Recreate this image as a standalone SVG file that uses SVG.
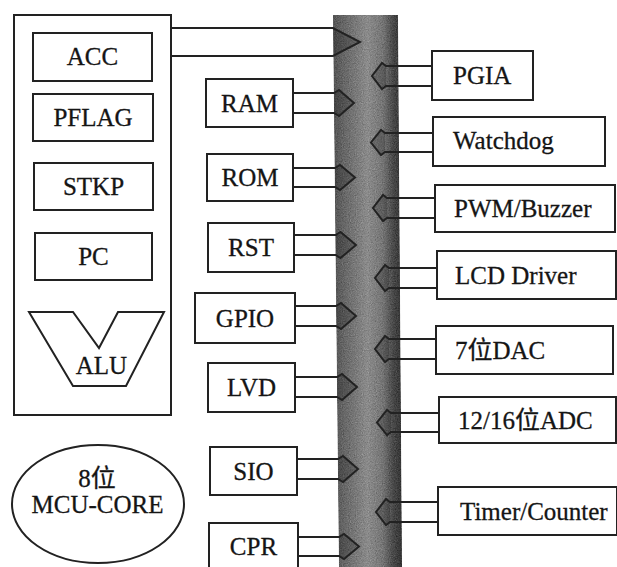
<svg xmlns="http://www.w3.org/2000/svg" width="617" height="567" viewBox="0 0 617 567">
  <defs>
    <linearGradient id="busGrad" x1="0" y1="0" x2="1" y2="0">
      <stop offset="0" stop-color="#525252"/>
      <stop offset="0.18" stop-color="#686868"/>
      <stop offset="0.5" stop-color="#8a8a8a"/>
      <stop offset="0.72" stop-color="#747474"/>
      <stop offset="0.88" stop-color="#464646"/>
      <stop offset="1" stop-color="#333333"/>
    </linearGradient>
    <filter id="grain" x="0" y="0" width="1" height="1" color-interpolation-filters="sRGB">
      <feTurbulence type="fractalNoise" baseFrequency="0.85" numOctaves="2" seed="7" result="t"/>
      <feColorMatrix in="t" type="matrix" values="0.33 0.33 0.33 0 0  0.33 0.33 0.33 0 0  0.33 0.33 0.33 0 0  0 0 0 0 1" result="g"/>
      <feComposite in="SourceGraphic" in2="g" operator="arithmetic" k1="0" k2="1" k3="0.45" k4="-0.22" result="m"/>
      <feComposite in="m" in2="SourceGraphic" operator="in"/>
    </filter>
  </defs>
  <style>
    .box { fill: #ffffff; stroke: #222222; stroke-width: 2; }
    .line { fill: none; stroke: #222222; stroke-width: 2; stroke-linejoin: miter; }
    .tip { fill: #000000; fill-opacity: 0.2; stroke: none; }
    .lbl { font-family: "Liberation Serif", "Noto Sans CJK SC", serif; font-size: 25px; fill: #151515; stroke: #151515; stroke-width: 0.3; }
    .c { text-anchor: middle; }
  </style>
  <rect x="0" y="0" width="617" height="567" fill="#ffffff"/>

  <g id="bus">
    <polygon points="333,15 398,15 402,567 339,567" fill="url(#busGrad)" filter="url(#grain)"/>
  </g>

  <g id="mcu-core">
    <rect class="box" x="14" y="15" width="157" height="400"/>
  </g>
  <g id="acc">
    <rect class="box" x="33" y="33" width="119" height="48"/>
    <text class="lbl c" x="92.5" y="65">ACC</text>
  </g>
  <g id="pflag">
    <rect class="box" x="33" y="94" width="120" height="47"/>
    <text class="lbl c" x="93" y="126">PFLAG</text>
  </g>
  <g id="stkp">
    <rect class="box" x="34" y="163" width="119" height="47"/>
    <text class="lbl c" x="93.5" y="195">STKP</text>
  </g>
  <g id="pc">
    <rect class="box" x="35" y="233" width="117" height="47"/>
    <text class="lbl c" x="93.5" y="265">PC</text>
  </g>
  <g id="alu">
    <polygon class="box" points="29,312 73,312 99,348 118,312 164,312 126,386 73,386"/>
    <text class="lbl c" x="101.5" y="374">ALU</text>
  </g>
  <g id="core-label">
    <ellipse class="box" cx="98" cy="504" rx="86" ry="59"/>
    <text class="lbl c" x="97" y="487">8位</text>
    <text class="lbl c" x="97.5" y="513">MCU-CORE</text>
  </g>

  <g id="ram">
    <rect class="box" x="206" y="79" width="87" height="48"/>
    <text class="lbl c" x="249.5" y="111.5">RAM</text>
  </g>
  <g id="rom">
    <rect class="box" x="207" y="154" width="86" height="47"/>
    <text class="lbl c" x="250" y="186">ROM</text>
  </g>
  <g id="rst">
    <rect class="box" x="208" y="223" width="86" height="49"/>
    <text class="lbl c" x="251" y="256">RST</text>
  </g>
  <g id="gpio">
    <rect class="box" x="195" y="293" width="100" height="50"/>
    <text class="lbl c" x="245" y="326.5">GPIO</text>
  </g>
  <g id="lvd">
    <rect class="box" x="208" y="363" width="87" height="49"/>
    <text class="lbl c" x="251.5" y="396">LVD</text>
  </g>
  <g id="sio">
    <rect class="box" x="210" y="447" width="87" height="48"/>
    <text class="lbl c" x="253.5" y="479.5">SIO</text>
  </g>
  <g id="cpr">
    <rect class="box" x="209" y="523" width="89" height="50"/>
    <text class="lbl c" x="253.5" y="555">CPR</text>
  </g>

  <g id="pgia">
    <rect class="box" x="432" y="51" width="101" height="49"/>
    <text class="lbl" x="453" y="84">PGIA</text>
  </g>
  <g id="watchdog">
    <rect class="box" x="433" y="117" width="172" height="49"/>
    <text class="lbl" x="453" y="149">Watchdog</text>
  </g>
  <g id="pwm">
    <rect class="box" x="435" y="185" width="180" height="47"/>
    <text class="lbl" x="454" y="217">PWM/Buzzer</text>
  </g>
  <g id="lcd">
    <rect class="box" x="437" y="251" width="179" height="48"/>
    <text class="lbl" x="455" y="283.5">LCD Driver</text>
  </g>
  <g id="dac">
    <rect class="box" x="436" y="326" width="177" height="48"/>
    <text class="lbl" x="455" y="358.5">7位DAC</text>
  </g>
  <g id="adc">
    <rect class="box" x="439" y="397" width="177" height="46"/>
    <text class="lbl" x="458" y="428.5">12/16位ADC</text>
  </g>
  <g id="timer">
    <rect class="box" x="438" y="487" width="179" height="48"/>
    <text class="lbl" x="460" y="519.5">Timer/Counter</text>
  </g>

  <g id="connectors">
    <!-- ACC / core -->
    <polygon class="tip" points="333,28 360,42 333,56"/>
    <polyline class="line" points="171,28 333,28 360,42 333,56 171,56"/>
    <!-- left modules -->
    <polygon class="tip" points="334,93 339,90 354,103 339,116 334,113"/>
    <polyline class="line" points="293,93 334,93 339,90 354,103 339,116 334,113 293,113"/>
    <polygon class="tip" points="335,168 340,165 355,177.5 340,190 335,187"/>
    <polyline class="line" points="293,168 335,168 340,165 355,177.5 340,190 335,187 293,187"/>
    <polygon class="tip" points="335.5,235 340.5,232 356,245 340.5,258 335.5,255"/>
    <polyline class="line" points="294,235 335.5,235 340.5,232 356,245 340.5,258 335.5,255 294,255"/>
    <polygon class="tip" points="336,306 341,303 356,316 341,329 336,326"/>
    <polyline class="line" points="295,306 336,306 341,303 356,316 341,329 336,326 295,326"/>
    <polygon class="tip" points="337,377 342,374 357,387 342,400 337,397"/>
    <polyline class="line" points="295,377 337,377 342,374 357,387 342,400 337,397 295,397"/>
    <polygon class="tip" points="338,459 343,456 358,469 343,482 338,479"/>
    <polyline class="line" points="297,459 338,459 343,456 358,469 343,482 338,479 297,479"/>
    <polygon class="tip" points="339,537 344,534 359,546.5 344,559 339,556"/>
    <polyline class="line" points="298,537 339,537 344,534 359,546.5 344,559 339,556 298,556"/>
    <!-- right modules -->
    <polygon class="tip" points="386,66 382,63 372,76 382,89 386,86"/>
    <polyline class="line" points="432,66 386,66 382,63 372,76 382,89 386,86 432,86"/>
    <polygon class="tip" points="385,133 381,130 371,142.5 381,155 385,152"/>
    <polyline class="line" points="433,133 385,133 381,130 371,142.5 381,155 385,152 433,152"/>
    <polygon class="tip" points="387,198 383,195 373,208 383,221 387,218"/>
    <polyline class="line" points="435,198 387,198 383,195 373,208 383,221 387,218 435,218"/>
    <polygon class="tip" points="389,268 385,265 375,278 385,291 389,288"/>
    <polyline class="line" points="437,268 389,268 385,265 375,278 385,291 389,288 437,288"/>
    <polygon class="tip" points="389,339 385,336 375,349 385,362 389,359"/>
    <polyline class="line" points="436,339 389,339 385,336 375,349 385,362 389,359 436,359"/>
    <polygon class="tip" points="391,413 387,410 377,422.5 387,435 391,432"/>
    <polyline class="line" points="439,413 391,413 387,410 377,422.5 387,435 391,432 439,432"/>
    <polygon class="tip" points="390,502 386,499 376,512 386,525 390,522"/>
    <polyline class="line" points="438,502 390,502 386,499 376,512 386,525 390,522 438,522"/>
  </g>
</svg>
